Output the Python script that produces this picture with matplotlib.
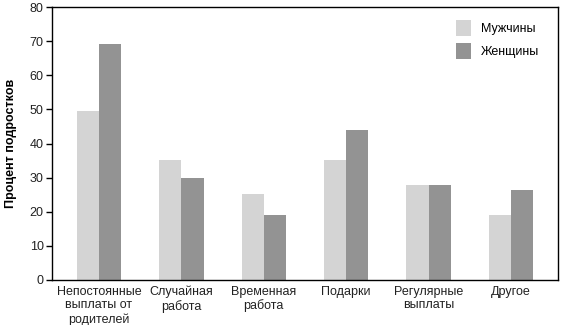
import numpy as np
import matplotlib.pyplot as plt

plt.rcParams['font.family'] = ['Liberation Sans', 'DejaVu Sans']

categories = ['Непостоянные\nвыплаты от\nродителей', 'Случайная\nработа', 'Временная\nработа',
              'Подарки', 'Регулярные\nвыплаты', 'Другое']
men = [49.5, 35.3, 25.3, 35.3, 27.9, 19.1]
women = [69.3, 30.0, 19.1, 44.1, 27.9, 26.5]

fig = plt.figure(figsize=(5.63, 3.25), dpi=100)
ax = fig.add_axes([0.0924, 0.1385, 0.8986, 0.8395])

x = np.arange(len(categories))
w = 0.27
ax.bar(x - w / 2, men, w, color='#d4d4d4', label='Мужчины')
ax.bar(x + w / 2, women, w, color='#939393', label='Женщины')

ax.set_xlim(-0.57, len(categories) - 0.43)
ax.set_ylim(0, 80)
ax.set_yticks(range(0, 81, 10))
ax.set_xticks(x)
ax.set_xticklabels(categories, fontsize=9, color='#222222', linespacing=1.2)
ax.tick_params(axis='x', length=0, pad=4)
ax.tick_params(axis='y', labelsize=9, labelcolor='#222222', length=4, width=1, pad=2)
ax.set_ylabel('Процент подростков', fontsize=9, fontweight='bold', labelpad=9)

for s in ax.spines.values():
    s.set_linewidth(1.0)

ax.legend(loc='upper right', bbox_to_anchor=(0.985, 0.995), frameon=False, fontsize=9,
          handlelength=1.2, handleheight=1.6, labelspacing=0.55, handletextpad=0.8)

fig.savefig('out.png', dpi=100)
